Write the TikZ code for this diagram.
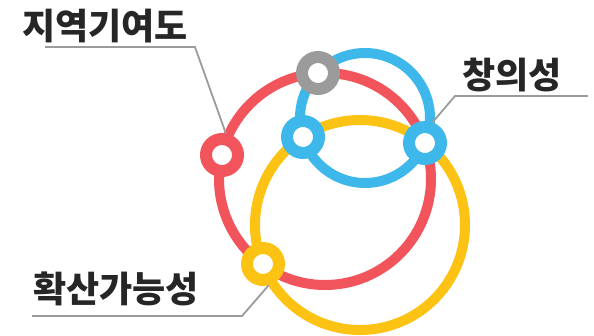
\documentclass[tikz,border=0pt]{standalone}
\usepackage{fontspec}
\newfontfamily\kr{Noto Sans CJK KR}
\usepackage{tikz}
\definecolor{redc}{HTML}{F2545B}
\definecolor{yelc}{HTML}{FDC314}
\definecolor{bluc}{HTML}{3EB8EA}
\definecolor{grac}{HTML}{9B9B9B}
\definecolor{txtc}{HTML}{262626}
\begin{document}
\begin{tikzpicture}[x=1pt,y=1pt,
	ring/.style={circle,draw=#1,fill=white,line width=12pt,minimum size=32pt,inner sep=0pt},
	loop/.style={draw=#1,line width=10pt},
	lead/.style={draw=grac,line width=1.8pt},
	lbl/.style={text=txtc,font=\kr\bfseries\fontsize{36}{40}\selectfont,inner sep=0pt}]
\useasboundingbox (0,0) rectangle (594,-336);
\coordinate (cr) at (325,-179);
\coordinate (cy) at (360,-225);
\coordinate (cb) at (365,-118);
\draw [loop=redc] (cr) circle (106pt);
\draw [loop=yelc] (cy) circle (105pt);
\draw [loop=bluc] (cb) circle (65pt);
\node [ring=redc] (r) at (222,-155) {};
\node [ring=grac] (g) at (318,-73) {};
\node [ring=bluc] (b1) at (303,-137) {};
\node [ring=bluc] (b2) at (425,-143) {};
\node [ring=yelc] (y) at (263,-264) {};
\node [lbl] (t1) at (105,-26) {지역기여도};
\node [lbl] (t2) at (512,-75) {창의성};
\node [lbl] (t3) at (116,-289) {확산가능성};
\coordinate (k1a) at (45,-47);
\coordinate (k1b) at (195,-47);
\coordinate (k2a) at (588,-96);
\coordinate (k2b) at (455,-96);
\coordinate (k3a) at (32,-316);
\coordinate (k3b) at (242,-316);
\draw [lead] (k1a) -- (k1b) -- (r.80);
\draw [lead] (k2a) -- (k2b) -- (b2.70);
\draw [lead] (k3a) -- (k3b) -- (y.-75);
\end{tikzpicture}
\end{document}
